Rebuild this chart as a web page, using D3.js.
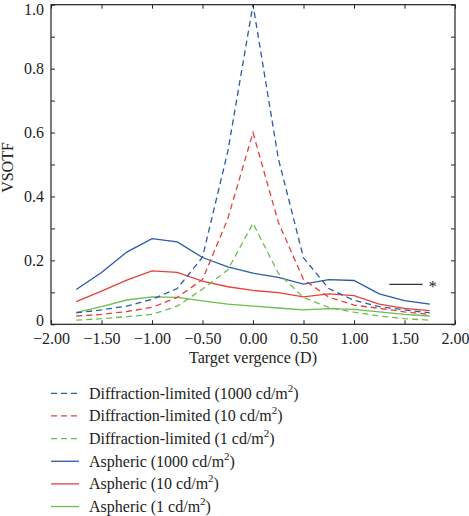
<!DOCTYPE html>
<html>
<head>
<meta charset="utf-8">
<script src="https://cdn.jsdelivr.net/npm/d3@7"></script>
<style>
  html, body { margin: 0; padding: 0; background: #fff; }
  svg { display: block; }
  text { font-family: "Liberation Serif", "Times New Roman", serif; fill: #222; }
</style>
</head>
<body>
<div id="chart"></div>
<script>
// ---- Data ----
const vergence = [-1.75, -1.5, -1.25, -1.0, -0.75, -0.5, -0.25, 0, 0.25, 0.5, 0.75, 1.0, 1.25, 1.5, 1.75];
const diff1000 = [0.036, 0.045, 0.057, 0.078, 0.112, 0.21, 0.54, 1.0, 0.52, 0.208, 0.112, 0.075, 0.055, 0.045, 0.036];
const diff10   = [0.026, 0.031, 0.040, 0.053, 0.084, 0.14, 0.33, 0.6, 0.32, 0.14, 0.085, 0.06, 0.05, 0.039, 0.031];
const diff1    = [0.013, 0.0175, 0.024, 0.031, 0.057, 0.11, 0.17, 0.316, 0.16, 0.084, 0.053, 0.038, 0.026, 0.0175, 0.013];
const asph1000 = [0.109, 0.162, 0.226, 0.268, 0.258, 0.209, 0.18, 0.16, 0.147, 0.126, 0.14, 0.137, 0.095, 0.074, 0.063];
const asph10   = [0.071, 0.104, 0.138, 0.167, 0.1625, 0.135, 0.1175, 0.106, 0.099, 0.086, 0.095, 0.09, 0.063, 0.05, 0.0425];
const asph1    = [0.0375, 0.055, 0.076, 0.086, 0.084, 0.073, 0.063, 0.057, 0.051, 0.045, 0.049, 0.047, 0.039, 0.031, 0.026];

const xTicks = [-2, -1.5, -1, -0.5, 0, 0.5, 1, 1.5, 2];
const yTickLabels = [0, 0.2, 0.4, 0.6, 0.8, 1.0];
const yMinorTicks = [0, 0.1, 0.2, 0.3, 0.4, 0.5, 0.6, 0.7, 0.8, 0.9, 1.0];

const seriesNames = [
  ["Diffraction-limited (1000 cd/m", "2", ")"],
  ["Diffraction-limited (10 cd/m", "2", ")"],
  ["Diffraction-limited (1 cd/m", "2", ")"],
  ["Aspheric (1000 cd/m", "2", ")"],
  ["Aspheric (10 cd/m", "2", ")"],
  ["Aspheric (1 cd/m", "2", ")"]
];
const seriesValues = [diff1000, diff10, diff1, asph1000, asph10, asph1];
const seriesDashed = [true, true, true, false, false, false];
const seriesColors = ["#2c5aa6", "#e5413b", "#6cbd4e", "#2c5aa6", "#e5413b", "#6cbd4e"];

const annotX = [1.35, 1.68];
const annotY = 0.125;
const annotLabel = "*";

// ---- Layout ----
const W = 469, H = 516;
const mLeft = 51, mRight = 455, mTop = 4.7, mBottom = 324.3;
const FS = 16;

const svg = d3.select("#chart").append("svg").attr("width", W).attr("height", H);

const x = d3.scaleLinear().domain([-2, 2]).range([mLeft, mRight]);
const y = d3.scaleLinear().domain([0, 1]).range([mBottom, mTop]);

const line = d3.line().x((d, i) => x(vergence[i])).y(d => y(d));

// series
const order = [3, 4, 5, 0, 1, 2];
order.forEach(k => {
  svg.append("path")
    .datum(seriesValues[k])
    .attr("d", line)
    .attr("fill", "none")
    .attr("stroke", seriesColors[k])
    .attr("stroke-width", 1.3)
    .attr("stroke-dasharray", seriesDashed[k] ? "6,4" : null);
});

// frame
svg.append("rect")
  .attr("x", mLeft).attr("y", mTop)
  .attr("width", mRight - mLeft).attr("height", mBottom - mTop)
  .attr("fill", "none").attr("stroke", "#222").attr("stroke-width", 1.2);

// axes (inward ticks)
const gB = svg.append("g").attr("transform", `translate(0,${mBottom})`)
  .call(d3.axisBottom(x).tickValues(xTicks).tickSizeInner(-4).tickSizeOuter(0)
    .tickPadding(8).tickFormat(d => d3.format(".2f")(d).replace("-", "\u2212")));
const gT = svg.append("g").attr("transform", `translate(0,${mTop})`)
  .call(d3.axisTop(x).tickValues(xTicks).tickSizeInner(-4).tickSizeOuter(0).tickFormat(""));
const gL = svg.append("g").attr("transform", `translate(${mLeft},0)`)
  .call(d3.axisLeft(y).tickValues(yMinorTicks).tickSizeInner(-4).tickSizeOuter(0)
    .tickPadding(7).tickFormat(d => yTickLabels.some(v => Math.abs(v - d) < 1e-9) ? (d === 0 ? "0" : d3.format(".1f")(d)) : ""));
const gR = svg.append("g").attr("transform", `translate(${mRight},0)`)
  .call(d3.axisRight(y).tickValues(yMinorTicks).tickSizeInner(-4).tickSizeOuter(0).tickFormat(""));

[gB, gT, gL, gR].forEach(g => {
  g.select(".domain").remove();
  g.selectAll(".tick line").attr("stroke", "#222").attr("stroke-width", 1);
  g.selectAll("text").attr("font-size", FS).attr("font-family", "Liberation Serif, serif").attr("fill", "#222");
});
// keep the top "1.0" label inside the picture, lift "0" clear of the x labels
gL.selectAll(".tick").filter(d => d === 1).select("text").attr("dy", "0.6em");
gL.selectAll(".tick").filter(d => d === 0).select("text").attr("dy", "0.1em");

// axis titles
svg.append("text")
  .attr("x", (mLeft + mRight) / 2).attr("y", 363)
  .attr("text-anchor", "middle").attr("font-size", FS)
  .text("Target vergence (D)");
svg.append("text")
  .attr("transform", `translate(13,${(mTop + mBottom) / 2 + 3}) rotate(-90)`)
  .attr("text-anchor", "middle").attr("font-size", FS)
  .text("VSOTF");

// annotation
svg.append("line")
  .attr("x1", x(annotX[0])).attr("x2", x(annotX[1]))
  .attr("y1", y(annotY)).attr("y2", y(annotY))
  .attr("stroke", "#333").attr("stroke-width", 1.2);
svg.append("text")
  .attr("x", x(annotX[1]) + 6).attr("y", y(annotY) + 8)
  .attr("font-size", FS).attr("fill", "#444")
  .text(annotLabel);

// legend
const legY0 = 393.3, legDy = 22.65;
seriesNames.forEach((nm, k) => {
  const yy = legY0 + k * legDy;
  svg.append("line")
    .attr("x1", 51).attr("x2", 79).attr("y1", yy).attr("y2", yy)
    .attr("stroke", seriesColors[k]).attr("stroke-width", 1.3)
    .attr("stroke-dasharray", seriesDashed[k] ? "6,4" : null);
  const t = svg.append("text").attr("x", 89).attr("y", yy + 5.5).attr("font-size", FS);
  t.append("tspan").text(nm[0]);
  t.append("tspan").attr("dy", -7).attr("font-size", 11).text(nm[1]);
  t.append("tspan").attr("dy", 7).attr("font-size", FS).text(nm[2]);
});
</script>
</body>
</html>
